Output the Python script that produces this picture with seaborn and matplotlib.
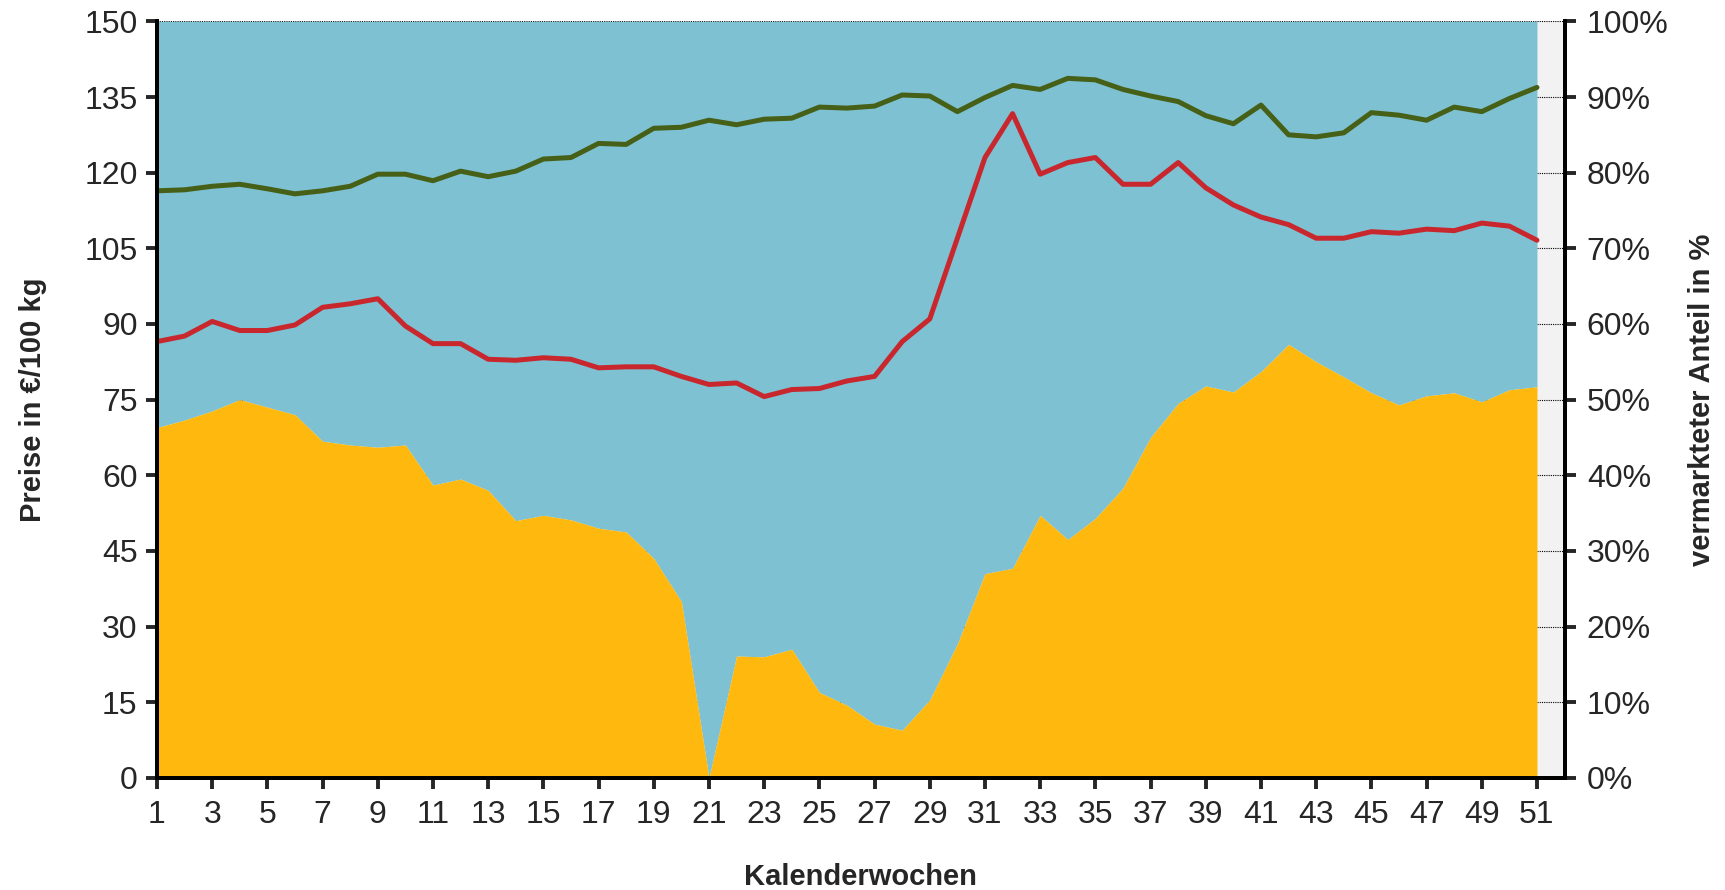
import numpy as np
import pandas as pd
import matplotlib
matplotlib.use("Agg")
import matplotlib.pyplot as plt
import seaborn as sns

weeks = list(range(1, 52))

# vermarkteter Anteil in % (orange Fläche)
share = [46.3, 47.3, 48.5, 50.0, 49.0, 48.0, 44.5, 44.0, 43.7, 44.0,
         38.7, 39.5, 38.0, 34.0, 34.7, 34.1, 33.0, 32.5, 29.0, 23.3,
         0.0, 16.1, 16.0, 17.0, 11.3, 9.6, 7.1, 6.3, 10.3, 17.7,
         27.0, 27.7, 34.7, 31.5, 34.3, 38.3, 45.0, 49.5, 51.8, 51.0,
         53.7, 57.3, 55.0, 53.0, 50.9, 49.3, 50.5, 50.9, 49.7, 51.3,
         51.7]

# Preise in €/100 kg
price_red = [86.5, 87.6, 90.5, 88.7, 88.7, 89.8, 93.3, 94.0, 95.0, 89.6,
             86.1, 86.1, 83.0, 82.8, 83.3, 83.0, 81.3, 81.5, 81.5, 79.6,
             78.0, 78.3, 75.6, 77.0, 77.2, 78.7, 79.6, 86.5, 91.0, 107.0,
             123.0, 131.7, 119.7, 122.0, 123.0, 117.7, 117.7, 122.0, 117.0, 113.6,
             111.2, 109.7, 107.0, 107.0, 108.3, 108.0, 108.8, 108.5, 110.0, 109.4,
             106.6]

price_green = [116.4, 116.6, 117.3, 117.7, 116.8, 115.8, 116.4, 117.3, 119.7, 119.7,
               118.4, 120.3, 119.2, 120.3, 122.7, 123.0, 125.8, 125.6, 128.8, 129.0,
               130.4, 129.5, 130.6, 130.8, 133.0, 132.8, 133.2, 135.4, 135.2, 132.1,
               134.9, 137.3, 136.5, 138.7, 138.4, 136.5, 135.2, 134.1, 131.3, 129.7,
               133.4, 127.5, 127.1, 127.9, 131.9, 131.4, 130.4, 133.0, 132.1, 134.7,
               136.9]

df = pd.DataFrame({"Woche": weeks, "Anteil": share,
                   "rot": price_red, "gruen": price_green})

sns.set_style("ticks")
plt.rcParams["font.family"] = ["Liberation Sans", "DejaVu Sans"]

fig = plt.figure(figsize=(17.25, 8.9), dpi=100)
ax = fig.add_axes([0.091, 0.126, 0.816, 0.850])
ax2 = ax.twinx()

# areas on the percent axis, grey plot background behind
ax2.patch.set_visible(True)
ax2.set_facecolor("#F2F2F2")
ax2.fill_between(df["Woche"], df["Anteil"], 100, color="#7DC1D3", linewidth=0, zorder=2)
ax2.fill_between(df["Woche"], 0, df["Anteil"], color="#FFB80D", linewidth=0, zorder=2)
ax2.set_ylim(0, 100)
ax2.set_yticks(range(0, 101, 10))
ax2.set_yticklabels([f"{v}%" for v in range(0, 101, 10)])
ax2.yaxis.grid(True, linestyle=(0, (1, 1)), color="black", linewidth=0.8, zorder=0)
ax2.set_axisbelow(True)
ax2.set_ylabel("vermarkteter Anteil in %", fontsize=21, fontweight="bold", labelpad=14)

# price lines on top
ax.set_zorder(ax2.get_zorder() + 1)
ax.patch.set_visible(False)
sns.lineplot(data=df, x="Woche", y="rot", ax=ax, color="#C8282D", linewidth=3.6)
sns.lineplot(data=df, x="Woche", y="gruen", ax=ax, color="#466017", linewidth=3.6)
ax.set_xlim(1, 52)
ax.set_ylim(0, 150)
ax.set_yticks(range(0, 151, 15))
ax.set_xticks(range(1, 52, 2))
ax.set_xlabel("Kalenderwochen", fontsize=21, fontweight="bold", labelpad=24)
ax.set_ylabel("Preise in €/100 kg", fontsize=21, fontweight="bold", labelpad=27)

for a in (ax, ax2):
    for s in a.spines.values():
        s.set_linewidth(2.8)
        s.set_color("black")
    a.spines["top"].set_visible(False)
    a.tick_params(labelsize=23, width=2.8, length=8, direction="out")

ax.tick_params(axis="x", pad=8)
ax.tick_params(axis="y", pad=6)
ax2.tick_params(axis="y", pad=8)

plt.savefig("out.png", dpi=100)
